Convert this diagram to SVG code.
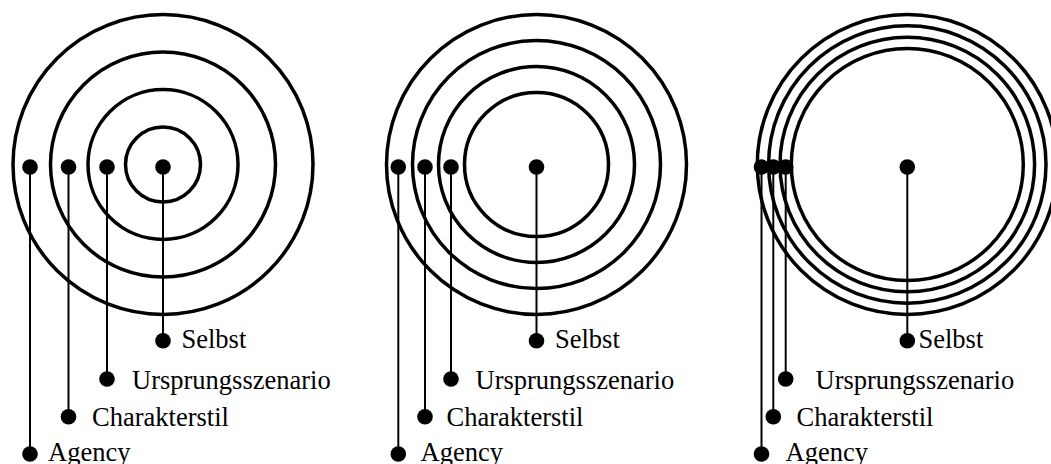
<svg xmlns="http://www.w3.org/2000/svg" width="1051" height="464" viewBox="0 0 1051 464">
<style>
.ring{fill:none;stroke:#000;stroke-width:3.5}
.dot{fill:#000}
.conn line{stroke:#000;stroke-width:2}
text{font-family:"Liberation Serif","Times New Roman",serif;font-size:26.5px;fill:#000}
</style>
<rect width="1051" height="464" fill="#fff"/>
<!-- Panel 1 -->
<g id="panel1-rings">
<circle class="ring" cx="163" cy="164.5" r="150"/>
<circle class="ring" cx="163" cy="164.5" r="112.5"/>
<circle class="ring" cx="163" cy="164.5" r="75"/>
<circle class="ring" cx="163" cy="164.5" r="37.5"/>
</g>
<g class="conn" id="panel1-connectors">
<line x1="30" y1="167" x2="30" y2="454"/>
<line x1="68.5" y1="167" x2="68.5" y2="416.7"/>
<line x1="107" y1="167" x2="107" y2="379"/>
<line x1="163" y1="167" x2="163" y2="340.7"/>
</g>
<g id="p1-agency"><circle class="dot" cx="30" cy="167" r="7.8"/><circle class="dot" cx="30" cy="454" r="7.8"/><text x="48" y="461">Agency</text></g>
<g id="p1-charakterstil"><circle class="dot" cx="68.5" cy="167" r="7.8"/><circle class="dot" cx="68.5" cy="416.7" r="7.8"/><text x="92" y="425.5">Charakterstil</text></g>
<g id="p1-ursprung"><circle class="dot" cx="107" cy="167" r="7.8"/><circle class="dot" cx="107" cy="379" r="7.8"/><text x="132" y="388.5">Ursprungsszenario</text></g>
<g id="p1-selbst"><circle class="dot" cx="163" cy="167" r="7.8"/><circle class="dot" cx="163" cy="340.7" r="7.8"/><text x="181.5" y="347.5">Selbst</text></g>
<!-- Panel 2 -->
<g id="panel2-rings">
<circle class="ring" cx="536.5" cy="164.5" r="150"/>
<circle class="ring" cx="536.5" cy="164.5" r="124"/>
<circle class="ring" cx="536.5" cy="164.5" r="98"/>
<circle class="ring" cx="536.5" cy="164.5" r="72"/>
</g>
<g class="conn" id="panel2-connectors">
<line x1="398.3" y1="167" x2="398.3" y2="454"/>
<line x1="425" y1="167" x2="425" y2="416.7"/>
<line x1="451" y1="167" x2="451" y2="379"/>
<line x1="536.5" y1="167" x2="536.5" y2="340.7"/>
</g>
<g id="p2-agency"><circle class="dot" cx="398.3" cy="167" r="7.8"/><circle class="dot" cx="398.3" cy="454" r="7.8"/><text x="420.5" y="461">Agency</text></g>
<g id="p2-charakterstil"><circle class="dot" cx="425" cy="167" r="7.8"/><circle class="dot" cx="425" cy="416.7" r="7.8"/><text x="446.5" y="425.5">Charakterstil</text></g>
<g id="p2-ursprung"><circle class="dot" cx="451" cy="167" r="7.8"/><circle class="dot" cx="451" cy="379" r="7.8"/><text x="475.5" y="388.5">Ursprungsszenario</text></g>
<g id="p2-selbst"><circle class="dot" cx="536.5" cy="167" r="7.8"/><circle class="dot" cx="536.5" cy="340.7" r="7.8"/><text x="555" y="347.5">Selbst</text></g>
<!-- Panel 3 -->
<g id="panel3-rings">
<circle class="ring" cx="907.3" cy="164.5" r="150"/>
<circle class="ring" cx="907.3" cy="164.5" r="138.7"/>
<circle class="ring" cx="907.3" cy="164.5" r="127.3"/>
<circle class="ring" cx="907.3" cy="164.5" r="116"/>
</g>
<g class="conn" id="panel3-connectors">
<line x1="761.5" y1="167" x2="761.5" y2="454"/>
<line x1="773.3" y1="167" x2="773.3" y2="416.7"/>
<line x1="785.7" y1="167" x2="785.7" y2="379"/>
<line x1="907.3" y1="167" x2="907.3" y2="340.7"/>
</g>
<g id="p3-agency"><circle class="dot" cx="761.5" cy="167" r="7.8"/><circle class="dot" cx="761.5" cy="454" r="7.8"/><text x="785.5" y="461">Agency</text></g>
<g id="p3-charakterstil"><circle class="dot" cx="773.3" cy="167" r="7.8"/><circle class="dot" cx="773.3" cy="416.7" r="7.8"/><text x="796.5" y="425.5">Charakterstil</text></g>
<g id="p3-ursprung"><circle class="dot" cx="785.7" cy="167" r="7.8"/><circle class="dot" cx="785.7" cy="379" r="7.8"/><text x="815.5" y="388.5">Ursprungsszenario</text></g>
<g id="p3-selbst"><circle class="dot" cx="907.3" cy="167" r="7.8"/><circle class="dot" cx="907.3" cy="340.7" r="7.8"/><text x="918.5" y="347.5">Selbst</text></g>
</svg>
